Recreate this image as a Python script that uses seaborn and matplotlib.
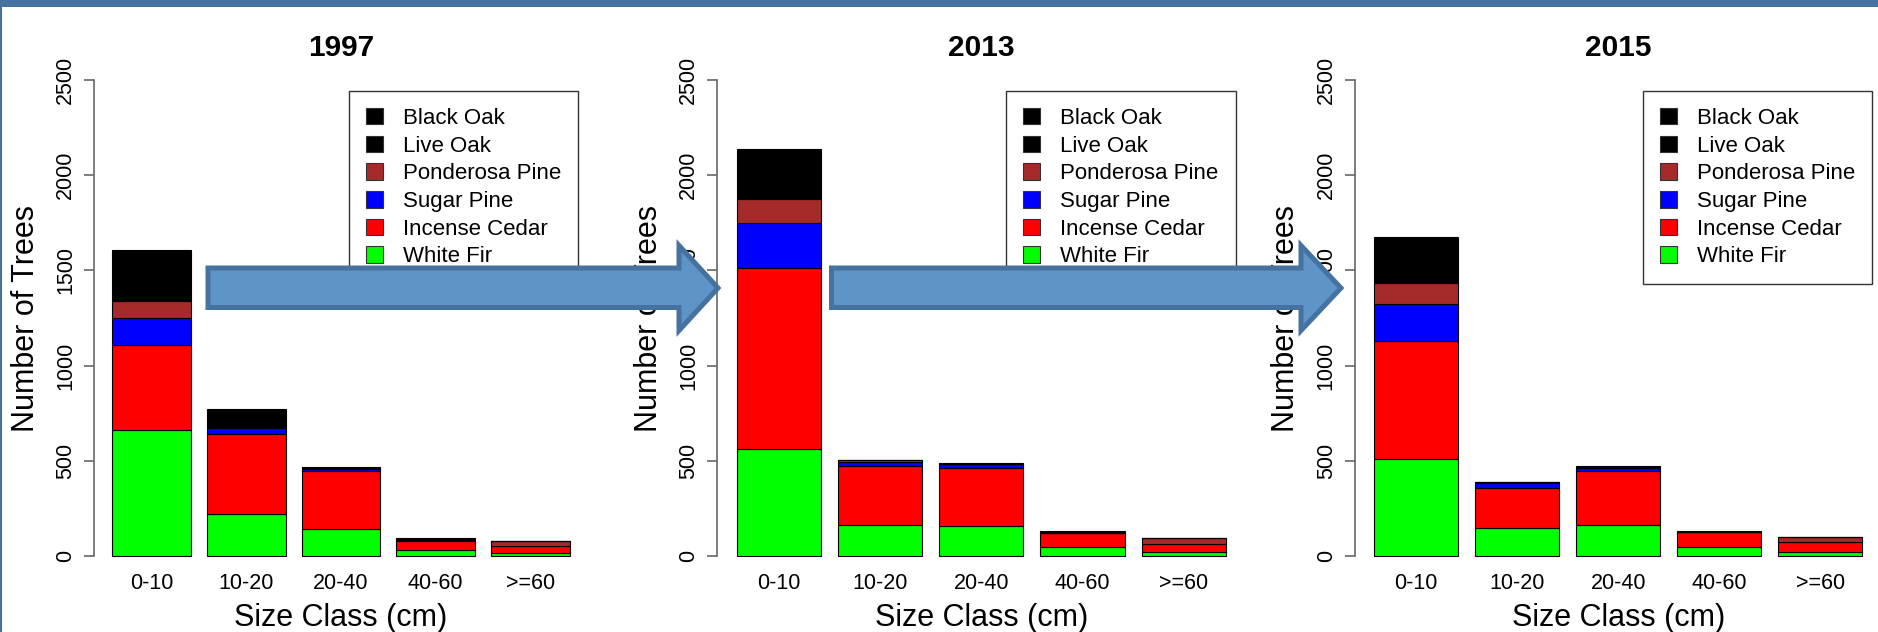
import numpy as np
import matplotlib
matplotlib.use("Agg")
import matplotlib.pyplot as plt
import seaborn as sns
from matplotlib.patches import Patch, Polygon, Rectangle

sns.set_style("white")
plt.rcParams['font.family'] = ['Liberation Sans', 'DejaVu Sans']
plt.rcParams['text.color'] = 'black'
plt.rcParams['axes.labelcolor'] = 'black'
plt.rcParams['xtick.labelcolor'] = 'black'
plt.rcParams['ytick.labelcolor'] = 'black'

##### DATA #####
size_classes = ['0-10', '10-20', '20-40', '40-60', '>=60']
years = ['1997', '2013', '2015']

# stacked bottom -> top
species = ['White Fir', 'Incense Cedar', 'Sugar Pine', 'Ponderosa Pine', 'Live Oak', 'Black Oak']
species_colors = ['#00FF00', '#FF0000', '#0000FF', '#A52A2A', '#000000', '#000000']

white_fir_1997 = [664, 220, 140, 32, 17]
incense_cedar_1997 = [446, 420, 306, 46, 34]
sugar_pine_1997 = [138, 32, 13, 0, 0]
ponderosa_pine_1997 = [91, 7, 0, 8, 27]
live_oak_1997 = [70, 20, 0, 0, 0]
black_oak_1997 = [198, 74, 8, 6, 0]

white_fir_2013 = [561, 165, 155, 49, 23]
incense_cedar_2013 = [951, 307, 307, 69, 42]
sugar_pine_2013 = [235, 23, 23, 0, 0]
ponderosa_pine_2013 = [128, 9, 0, 0, 27]
live_oak_2013 = [70, 0, 0, 4, 0]
black_oak_2013 = [195, 0, 5, 10, 0]

white_fir_2015 = [510, 146, 162, 49, 23]
incense_cedar_2015 = [618, 212, 285, 78, 48]
sugar_pine_2015 = [197, 23, 16, 0, 0]
ponderosa_pine_2015 = [111, 10, 0, 0, 26]
live_oak_2015 = [65, 0, 0, 0, 0]
black_oak_2015 = [176, 0, 7, 5, 0]

counts = {
    '1997': [white_fir_1997, incense_cedar_1997, sugar_pine_1997, ponderosa_pine_1997, live_oak_1997, black_oak_1997],
    '2013': [white_fir_2013, incense_cedar_2013, sugar_pine_2013, ponderosa_pine_2013, live_oak_2013, black_oak_2013],
    '2015': [white_fir_2015, incense_cedar_2015, sugar_pine_2015, ponderosa_pine_2015, live_oak_2015, black_oak_2015],
}

##### LAYOUT (pixels) #####
W, H = 1878, 632
ax_bottom, ax_height = 575, 514
panels_px = [(94, 494), (717, 528.6), (1354.5, 527.5)]
band = '#4672A0'
arrow_fill = '#5F94C8'
arrow_edge = '#4672A0'
axis_col = '#666666'

fig = plt.figure(figsize=(W / 100, H / 100), dpi=100)

for year, (left, width) in zip(years, panels_px):
    ax = fig.add_axes([left / W, (H - ax_bottom) / H, width / W, ax_height / H])
    bottoms = np.zeros(len(size_classes))
    for name, col, vals in zip(species, species_colors, counts[year]):
        sns.barplot(x=size_classes, y=vals, bottom=bottoms, color=col, saturation=1,
                    width=1 / 1.2, edgecolor='black', linewidth=0.8, ax=ax)
        bottoms = bottoms + np.array(vals)

    ax.set_xlim(-0.61, 4.61)
    ax.set_ylim(-100, 2600)
    ax.set_yticks([0, 500, 1000, 1500, 2000, 2500])
    for s in ['top', 'right', 'bottom']:
        ax.spines[s].set_visible(False)
    ax.spines['left'].set_bounds(0, 2500)
    ax.spines['left'].set_color(axis_col)
    ax.spines['left'].set_linewidth(1.2)
    ax.tick_params(axis='y', labelrotation=90, length=7.2, width=1.2, color=axis_col,
                   pad=5.5, labelsize=15.5, left=True)
    for lab in ax.get_yticklabels():
        lab.set_verticalalignment('center')
    ax.tick_params(axis='x', length=0, pad=-1.5, labelsize=15.5)

    ax.set_title(year, fontsize=21.5, fontweight='bold', pad=3.5)
    ax.set_xlabel('Size Class (cm)', fontsize=22, va='top')
    ax.xaxis.set_label_coords(0.5, -(603 - 575) / ax_height)
    ax.set_ylabel('Number of Trees', fontsize=22, va='center')
    ax.yaxis.set_label_coords(-68 / width, 0.5)

    handles = [Patch(facecolor=c, edgecolor='#333333', linewidth=0.8, label=n)
               for n, c in zip(species[::-1], species_colors[::-1])]
    leg = ax.legend(handles=handles, loc='upper right',
                    bbox_to_anchor=(1 - 10 / width, (ax_bottom - 91) / ax_height),
                    borderaxespad=0, fontsize=16, frameon=True, fancybox=False,
                    framealpha=1, edgecolor='#333333', handlelength=0.77,
                    handleheight=0.77, handletextpad=0.9, borderpad=0.76,
                    labelspacing=0.3)
    leg.get_frame().set_linewidth(1.0)


def px(x, y):
    return (x / W, 1 - y / H)


# big presentation arrows drawn over the panels
for x0, xb, xt in [(208, 679, 718), (831.5, 1301, 1341)]:
    pts = [px(x0, 268), px(xb, 268), px(xb, 245.5), px(xt, 288), px(xb, 330.5),
           px(xb, 307.5), px(x0, 307.5)]
    fig.add_artist(Polygon(pts, closed=True, transform=fig.transFigure,
                           facecolor=arrow_fill, edgecolor=arrow_edge,
                           linewidth=3.6, joinstyle='miter', zorder=10))

# slide frame
fig.add_artist(Rectangle((0, 1 - 7 / H), 1, 7 / H, transform=fig.transFigure,
                         facecolor=band, edgecolor='none', zorder=11))
fig.add_artist(Rectangle((0, 0), 2 / W, 1, transform=fig.transFigure,
                         facecolor=band, edgecolor='none', zorder=11))

fig.savefig('out.png', dpi=100)
